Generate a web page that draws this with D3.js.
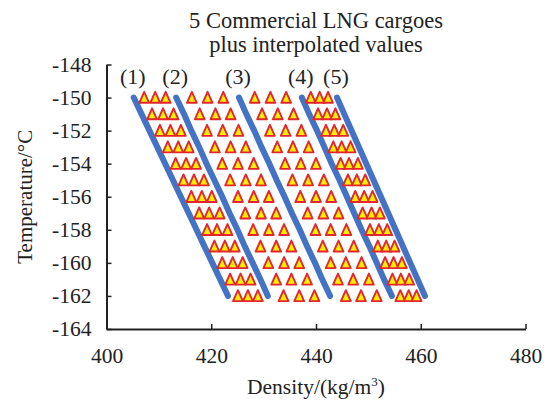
<!DOCTYPE html>
<html>
<head>
<meta charset="utf-8">
<script src="https://cdn.jsdelivr.net/npm/d3@7/dist/d3.min.js"></script>
<style>
  body { margin: 0; background: #fff; }
  svg { display: block; font-family: "Liberation Serif", "Times New Roman", serif; }
</style>
</head>
<body>
<svg width="551" height="401"></svg>
<script>
// Temperatures (rows), degC.
const temps = [-150, -151, -152, -153, -154, -155, -156, -157, -158, -159, -160, -161, -162];

// Density of the 5 commercial cargoes at each temperature, kg/m3.
const cargo1 = [405.2, 406.7, 408.2, 409.7, 411.2, 412.7, 414.2, 415.7, 417.2, 418.7, 420.2, 421.7, 423.2];
const cargo2 = [413.3, 414.8, 416.2, 417.7, 419.1, 420.6, 422.1, 423.5, 425.0, 426.4, 427.9, 429.4, 430.8];
const cargo3 = [425.3, 426.7, 428.2, 429.6, 431.1, 432.5, 434.0, 435.4, 436.9, 438.3, 439.8, 441.2, 442.7];
const cargo4 = [437.3, 438.7, 440.2, 441.6, 443.0, 444.5, 445.9, 447.3, 448.7, 450.2, 451.6, 453.0, 454.5];
const cargo5 = [444.0, 445.4, 446.8, 448.2, 449.6, 451.0, 452.4, 453.8, 455.2, 456.6, 458.0, 459.4, 460.8];
const cargoLabels = ["(1)", "(2)", "(3)", "(4)", "(5)"];

// Interpolated values read between each pair of cargoes, one row per temperature.
const interp12 = [
  [407.2, 409.3, 411.3], [408.7, 410.8, 412.8], [410.2, 412.2, 414.2], [411.7, 413.7, 415.7],
  [413.2, 415.2, 417.1], [414.7, 416.7, 418.6], [416.2, 418.2, 420.1], [417.7, 419.6, 421.6],
  [419.2, 421.1, 423.1], [420.6, 422.6, 424.5], [422.1, 424.1, 426.0], [423.6, 425.6, 427.5],
  [425.1, 427.0, 428.9]];
const interp23 = [
  [416.3, 419.3, 422.3], [417.8, 420.8, 423.7], [419.2, 422.2, 425.2], [420.7, 423.7, 426.6],
  [422.1, 425.1, 428.1], [423.6, 426.6, 429.5], [425.1, 428.1, 431.0], [426.5, 429.5, 432.4],
  [428.0, 431.0, 433.9], [429.4, 432.4, 435.3], [430.9, 433.9, 436.8], [432.4, 435.3, 438.3],
  [433.8, 436.8, 439.7]];
const interp34 = [
  [428.3, 431.3, 434.3], [429.7, 432.7, 435.7], [431.2, 434.2, 437.2], [432.6, 435.6, 438.6],
  [434.1, 437.1, 440.0], [435.5, 438.5, 441.5], [437.0, 440.0, 442.9], [438.4, 441.4, 444.3],
  [439.9, 442.8, 445.8], [441.3, 444.3, 447.2], [442.8, 445.7, 448.7], [444.2, 447.1, 450.1],
  [445.7, 448.6, 451.6]];
const interp45 = [
  [439.0, 440.7, 442.3], [440.4, 442.1, 443.7], [441.9, 443.5, 445.2], [443.3, 444.9, 446.6],
  [444.7, 446.3, 448.0], [446.1, 447.8, 449.4], [447.5, 449.2, 450.8], [448.9, 450.6, 452.2],
  [450.3, 452.0, 453.6], [451.8, 453.4, 455.0], [453.2, 454.8, 456.4], [454.6, 456.2, 457.8],
  [456.1, 457.7, 459.2]];

// Axis ticks.
const xTicks = [400, 420, 440, 460, 480];
const yTicks = [-148, -150, -152, -154, -156, -158, -160, -162, -164];

// Layout.
const svg = d3.select("svg");
const margin = { top: 64.5, right: 25.5, bottom: 72, left: 106.5 };
const width = 551 - margin.left - margin.right;
const height = 401 - margin.top - margin.bottom;
const g = svg.append("g").attr("transform", `translate(${margin.left},${margin.top})`);

const x = d3.scaleLinear().domain([400, 480]).range([0, width]);
const y = d3.scaleLinear().domain([-164, -148]).range([height, 0]);

// Title.
svg.append("text")
  .attr("x", margin.left + width / 2).attr("y", 28)
  .attr("text-anchor", "middle").attr("font-size", 22.5).attr("fill", "#222")
  .text("5 Commercial LNG cargoes");
svg.append("text")
  .attr("x", margin.left + width / 2).attr("y", 52)
  .attr("text-anchor", "middle").attr("font-size", 22.5).attr("fill", "#222")
  .text("plus interpolated values");

// Axes with inward ticks; plain hyphen for negatives like the original.
const fmt = (d) => String(d);
const xAxis = g.append("g")
  .attr("transform", `translate(0,${height})`)
  .call(d3.axisBottom(x).tickValues(xTicks).tickFormat(fmt)
    .tickSizeInner(-5).tickSizeOuter(0).tickPadding(19));
const yAxis = g.append("g")
  .call(d3.axisLeft(y).tickValues(yTicks).tickFormat(fmt)
    .tickSizeInner(-5).tickSizeOuter(0).tickPadding(15));

for (const ax of [xAxis, yAxis]) {
  ax.select(".domain").attr("stroke", "#222").attr("stroke-width", 2);
  ax.selectAll(".tick line").attr("stroke", "#222").attr("stroke-width", 1.5);
  ax.selectAll(".tick text")
    .attr("font-family", "Liberation Serif, serif").attr("font-size", 21.5).attr("fill", "#222");
}

// Axis titles.
const xTitle = svg.append("text")
  .attr("x", margin.left + width / 2).attr("y", 394)
  .attr("text-anchor", "middle").attr("font-size", 21.5).attr("fill", "#222");
xTitle.append("tspan").text("Density/(kg/m");
xTitle.append("tspan").attr("font-size", 13).attr("dy", -8).text("3");
xTitle.append("tspan").attr("dy", 8).text(")");

svg.append("text")
  .attr("transform", `translate(32,${margin.top + height / 2}) rotate(-90)`)
  .attr("text-anchor", "middle").attr("font-size", 21).attr("fill", "#222")
  .text("Temperature/\u00B0C");

// Cargo lines.
const cargoes = [cargo1, cargo2, cargo3, cargo4, cargo5];
const line = d3.line().x((d) => x(d[0])).y((d) => y(d[1]));

g.selectAll("path.cargo")
  .data(cargoes)
  .join("path")
  .attr("class", "cargo")
  .attr("fill", "none")
  .attr("stroke", "#4472c4")
  .attr("stroke-width", 6)
  .attr("stroke-linecap", "round")
  .attr("d", (c) => line(c.map((d, i) => [d, temps[i]])));

// Cargo labels above each line.
g.selectAll("text.label")
  .data(cargoes)
  .join("text")
  .attr("class", "label")
  .attr("x", (c) => x(c[0]) - 1)
  .attr("y", y(temps[0]) - 14)
  .attr("text-anchor", "middle")
  .attr("font-size", 22)
  .attr("fill", "#222")
  .text((c, i) => cargoLabels[i]);

// Interpolated values as triangles.
const points = [];
for (const set of [interp12, interp23, interp34, interp45]) {
  set.forEach((row, i) => row.forEach((d) => points.push({ d, t: temps[i] })));
}

const tri = "M0,-5.8L4.9,5.2L-4.9,5.2Z";
g.selectAll("path.tri")
  .data(points)
  .join("path")
  .attr("class", "tri")
  .attr("transform", (p) => `translate(${x(p.d)},${y(p.t)})`)
  .attr("d", tri)
  .attr("fill", "#ffee00")
  .attr("stroke", "#e3262b")
  .attr("stroke-width", 1.9)
  .attr("stroke-linejoin", "round");
</script>
</body>
</html>
